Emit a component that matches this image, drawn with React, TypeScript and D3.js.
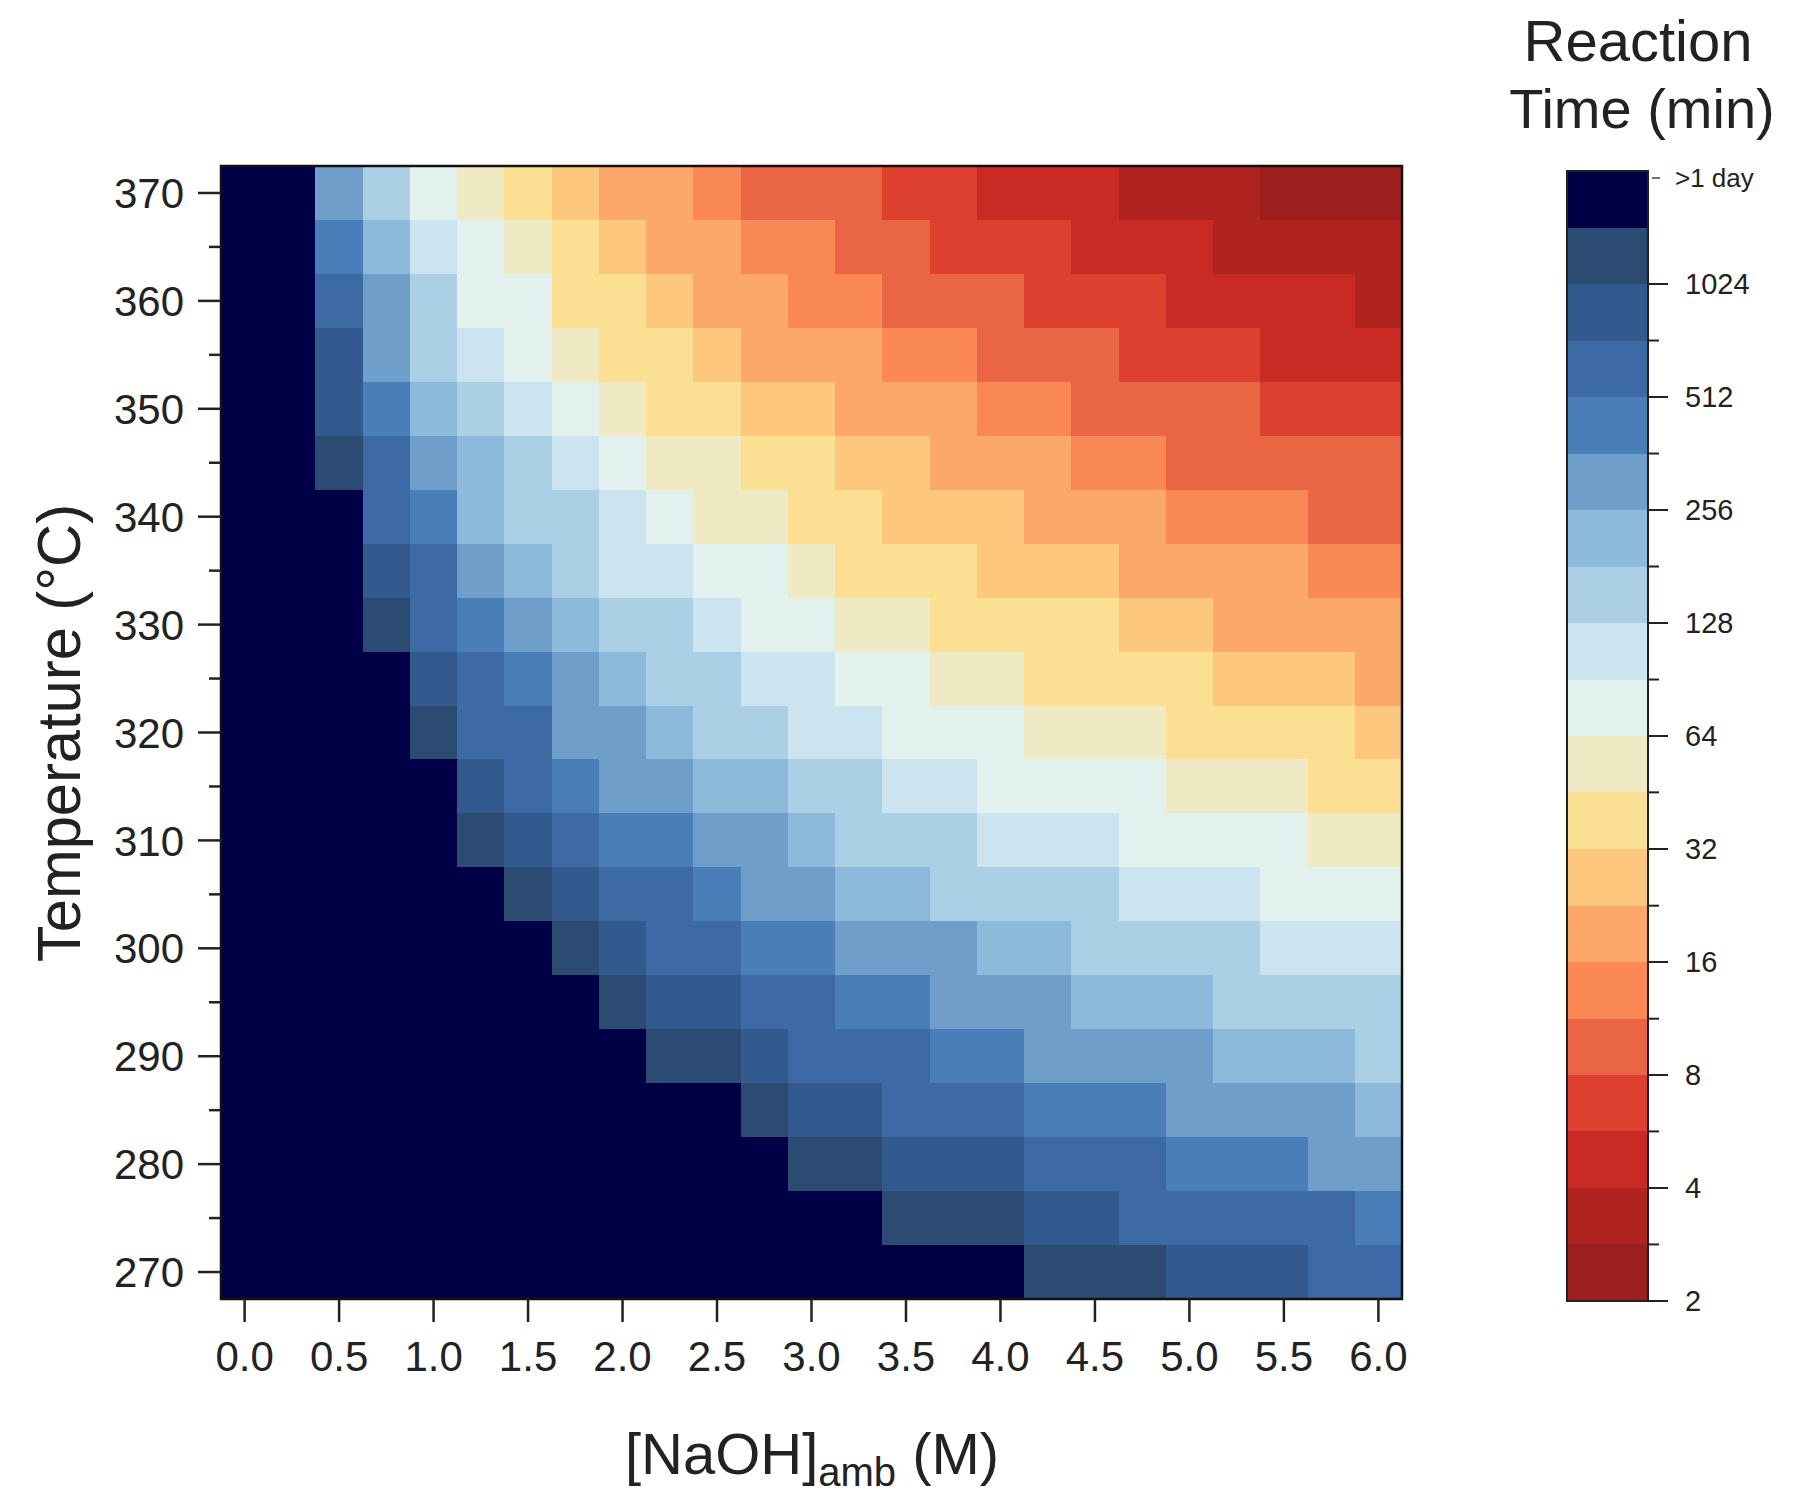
import React from "react";
import * as d3 from "d3";

// ---- categories ----
const naohLevels = [0, 0.25, 0.5, 0.75, 1, 1.25, 1.5, 1.75, 2, 2.25, 2.5, 2.75, 3, 3.25, 3.5, 3.75, 4, 4.25, 4.5, 4.75, 5, 5.25, 5.5, 5.75, 6];
const temperatures = [370, 365, 360, 355, 350, 345, 340, 335, 330, 325, 320, 315, 310, 305, 300, 295, 290, 285, 280, 275, 270];

// ---- reaction-time band per cell (0 = 2–2.8 min ... 18 = 1024–1448 min, 19 = >1 day) ----
const r370 = [19,19,14,12,10,9,8,7,6,6,5,4,4,4,3,3,2,2,2,1,1,1,0,0,0];
const r365 = [19,19,15,13,11,10,9,8,7,6,6,5,5,4,4,3,3,3,2,2,2,1,1,1,1];
const r360 = [19,19,16,14,12,10,10,8,8,7,6,6,5,5,4,4,4,3,3,3,2,2,2,2,1];
const r355 = [19,19,17,14,12,11,10,9,8,8,7,6,6,6,5,5,4,4,4,3,3,3,2,2,2];
const r350 = [19,19,17,15,13,12,11,10,9,8,8,7,7,6,6,6,5,5,4,4,4,4,3,3,3];
const r345 = [19,19,18,16,14,13,12,11,10,9,9,8,8,7,7,6,6,6,5,5,4,4,4,4,4];
const r340 = [19,19,19,16,15,13,12,12,11,10,9,9,8,8,7,7,7,6,6,6,5,5,5,4,4];
const r335 = [19,19,19,17,16,14,13,12,11,11,10,10,9,8,8,8,7,7,7,6,6,6,6,5,5];
const r330 = [19,19,19,18,16,15,14,13,12,12,11,10,10,9,9,8,8,8,8,7,7,6,6,6,6];
const r325 = [19,19,19,19,17,16,15,14,13,12,12,11,11,10,10,9,9,8,8,8,8,7,7,7,6];
const r320 = [19,19,19,19,18,16,16,14,14,13,12,12,11,11,10,10,10,9,9,9,8,8,8,8,7];
const r315 = [19,19,19,19,19,17,16,15,14,14,13,13,12,12,11,11,10,10,10,10,9,9,9,8,8];
const r310 = [19,19,19,19,19,18,17,16,15,15,14,14,13,12,12,12,11,11,11,10,10,10,10,9,9];
const r305 = [19,19,19,19,19,19,18,17,16,16,15,14,14,13,13,12,12,12,12,11,11,11,10,10,10];
const r300 = [19,19,19,19,19,19,19,18,17,16,16,15,15,14,14,14,13,13,12,12,12,12,11,11,11];
const r295 = [19,19,19,19,19,19,19,19,18,17,17,16,16,15,15,14,14,14,13,13,13,12,12,12,12];
const r290 = [19,19,19,19,19,19,19,19,19,18,18,17,16,16,16,15,15,14,14,14,14,13,13,13,12];
const r285 = [19,19,19,19,19,19,19,19,19,19,19,18,17,17,16,16,16,15,15,15,14,14,14,14,13];
const r280 = [19,19,19,19,19,19,19,19,19,19,19,19,18,18,17,17,17,16,16,16,15,15,15,14,14];
const r275 = [19,19,19,19,19,19,19,19,19,19,19,19,19,19,18,18,18,17,17,16,16,16,16,16,15];
const r270 = [19,19,19,19,19,19,19,19,19,19,19,19,19,19,19,19,19,18,18,18,17,17,17,16,16];
const bandRows = [r370, r365, r360, r355, r350, r345, r340, r335, r330, r325, r320, r315, r310, r305, r300, r295, r290, r285, r280, r275, r270];

// ---- colour bands (fast -> slow) ----
const bandColors = [
  "#9b1f1c", "#b0241f", "#c92a24", "#de402f", "#ea6543", "#f98854", "#fba86a", "#fdc77d",
  "#fbe093", "#efe9c4", "#e3f1ee", "#cce4f0", "#abd0e5", "#8dbadb", "#6f9ecb", "#4a7eb9",
  "#3d6aa5", "#335a8e", "#2c4b73", "#000046",
];
// band lower edges in minutes (log2 half steps), top band = >1 day
const bandEdges = [2, 2.83, 4, 5.66, 8, 11.3, 16, 22.6, 32, 45.3, 64, 90.5, 128, 181, 256, 362, 512, 724, 1024, 1448, 2048];
const colorbarTicks = [2, 4, 8, 16, 32, 64, 128, 256, 512, 1024];
const colorbarMinorTicks = [2.83, 5.66, 11.3, 22.6, 45.3, 90.5, 181, 362, 724];
const xTicks = [0, 0.5, 1, 1.5, 2, 2.5, 3, 3.5, 4, 4.5, 5, 5.5, 6];
const yTicks = [270, 280, 290, 300, 310, 320, 330, 340, 350, 360, 370];
const yMinorTicks = [275, 285, 295, 305, 315, 325, 335, 345, 355, 365];

const FONT = "'Liberation Sans', Arial, Helvetica, sans-serif";

export default function App() {
  const W = 1794, H = 1497;
  const left = 221, right = 1402, top = 166, bottom = 1299;

  const x = d3.scaleLinear().domain([-0.125, 6.125]).range([left, right]);
  const y = d3.scaleLinear().domain([267.5, 372.5]).range([bottom, top]);
  const color = d3.scaleOrdinal<number, string>().domain(d3.range(bandColors.length)).range(bandColors);

  const cbLeft = 1567, cbRight = 1648, cbTop = 171, cbBottom = 1301;
  const cy = d3.scaleLog().base(2).domain([2, 2048]).range([cbBottom, cbTop]);

  const cells: React.ReactNode[] = [];
  bandRows.forEach((row, ri) => {
    const t = temperatures[ri];
    row.forEach((b, ci) => {
      const n = naohLevels[ci];
      const x0 = Math.round(x(n - 0.125)), x1 = Math.round(x(n + 0.125));
      const y0 = Math.round(y(t + 2.5)), y1 = Math.round(y(t - 2.5));
      cells.push(
        <rect key={`${ri}-${ci}`} x={x0} y={y0} width={x1 - x0} height={y1 - y0} fill={color(b)} />
      );
    });
  });

  return (
    <svg width={W} height={H} style={{ position: "absolute", left: 0, top: 0, background: "#fff" }} fontFamily={FONT}>
      <rect x={0} y={0} width={W} height={H} fill="#fff" />
      <g shapeRendering="crispEdges">{cells}</g>
      <rect x={left} y={top} width={right - left} height={bottom - top} fill="none" stroke="#111" strokeWidth={2.5} />

      {/* x axis */}
      {xTicks.map((v) => (
        <g key={`xt${v}`}>
          <line x1={x(v)} x2={x(v)} y1={bottom} y2={bottom + 23} stroke="#222" strokeWidth={2.5} />
          <text x={x(v)} y={1371} textAnchor="middle" fontSize={42} fill="#222">{v.toFixed(1)}</text>
        </g>
      ))}
      <text x={812} y={1474} textAnchor="middle" fontSize={58} fill="#222">
        [NaOH]<tspan fontSize={40} dy={12}>amb</tspan><tspan dy={-12}>{" (M)"}</tspan>
      </text>

      {/* y axis */}
      {yTicks.map((v) => (
        <g key={`yt${v}`}>
          <line x1={left - 23} x2={left} y1={y(v)} y2={y(v)} stroke="#222" strokeWidth={2.5} />
          <text x={184} y={y(v)} dy="0.36em" textAnchor="end" fontSize={42} fill="#222">{v}</text>
        </g>
      ))}
      {yMinorTicks.map((v) => (
        <line key={`ym${v}`} x1={left - 12} x2={left} y1={y(v)} y2={y(v)} stroke="#222" strokeWidth={2.5} />
      ))}
      <text transform={`translate(80,733) rotate(-90)`} textAnchor="middle" fontSize={62} fill="#222"
        textLength={458} lengthAdjust="spacingAndGlyphs">Temperature (°C)</text>

      {/* colour bar */}
      <g shapeRendering="crispEdges">
        {bandColors.map((c, i) => (
          <rect key={`cb${i}`} x={cbLeft} y={Math.round(cy(bandEdges[i + 1]))} width={cbRight - cbLeft}
            height={Math.round(cy(bandEdges[i])) - Math.round(cy(bandEdges[i + 1]))} fill={c} />
        ))}
      </g>
      <rect x={cbLeft} y={cbTop} width={cbRight - cbLeft} height={cbBottom - cbTop} fill="none" stroke="#222" strokeWidth={2} />
      {colorbarTicks.map((v) => (
        <g key={`ct${v}`}>
          <line x1={cbRight} x2={cbRight + 20} y1={cy(v)} y2={cy(v)} stroke="#222" strokeWidth={2} />
          <text x={1685} y={cy(v)} dy="0.36em" fontSize={29} fill="#222">{v}</text>
        </g>
      ))}
      {colorbarMinorTicks.map((v) => (
        <line key={`cm${v}`} x1={cbRight} x2={cbRight + 11} y1={cy(v)} y2={cy(v)} stroke="#222" strokeWidth={2} />
      ))}
      <line x1={cbRight + 4} x2={cbRight + 12} y1={cbTop + 7} y2={cbTop + 7} stroke="#444" strokeWidth={1.5} />
      <text x={1675} y={cbTop + 7} dy="0.36em" fontSize={26} fill="#222">&gt;1 day</text>

      <text x={1638} y={61} textAnchor="middle" fontSize={58} fill="#222">Reaction</text>
      <text x={1642} y={128} textAnchor="middle" fontSize={56} fill="#222">Time (min)</text>
    </svg>
  );
}
